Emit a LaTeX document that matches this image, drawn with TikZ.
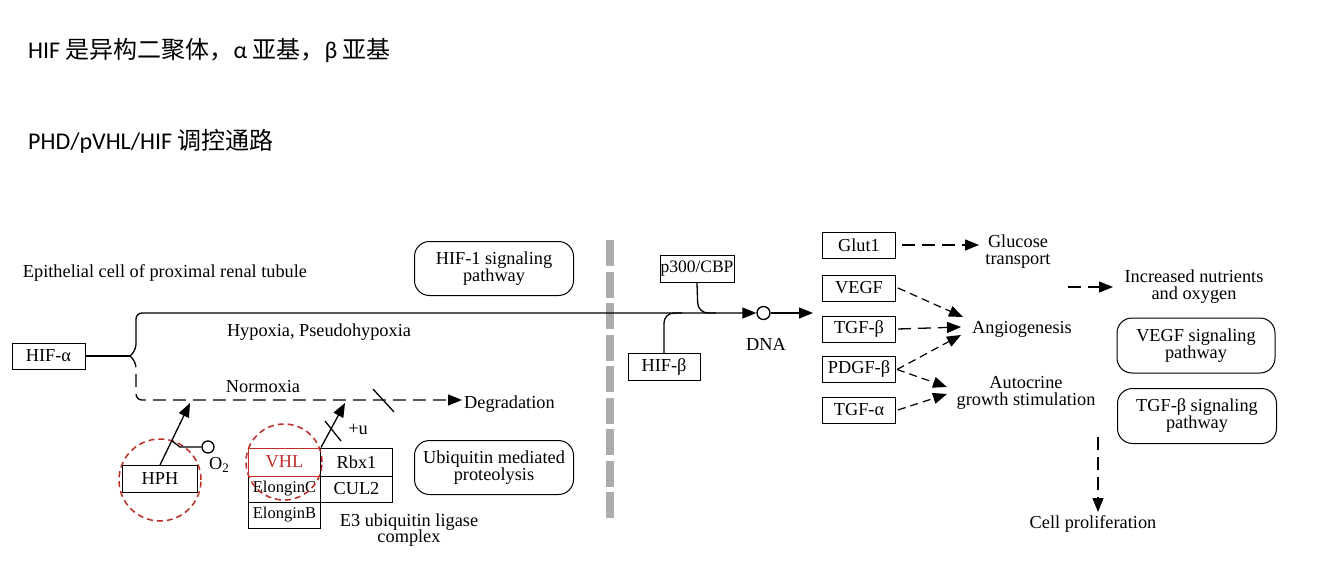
\documentclass[tikz,border=0pt]{standalone}
\usepackage{fontspec}
\setmainfont{Liberation Serif}
\newfontfamily\cjk{Noto Sans CJK SC}
\newfontfamily\lat{Carlito}
\usetikzlibrary{arrows.meta,calc}
\definecolor{kred}{RGB}{190,45,38}
\definecolor{kgray}{RGB}{172,172,172}
\begin{document}
\begin{tikzpicture}[x=1pt,y=-1pt,
  every node/.style={font=\fontsize{18.3}{18}\selectfont, inner sep=0pt},
  gbox/.style={draw, line width=1pt, minimum width=73pt, minimum height=26pt},
  cell/.style={draw, line width=1pt, minimum width=72pt, minimum height=26pt},
  rbox/.style={draw, line width=1pt, rounded corners=15pt, minimum width=159pt, minimum height=54pt, align=center},
  lbl/.style={align=center},
  ln/.style={line width=1.3pt},
  dsh/.style={line width=1.3pt, dash pattern=on 13pt off 7pt},
  sdsh/.style={line width=1.2pt, dash pattern=on 8pt off 5pt},
  tip/.style={-{Triangle[length=14pt,width=11pt]}},
  redcirc/.style={draw=kred, line width=1.5pt, dash pattern=on 6pt off 4pt},
  hdr/.style={anchor=base west, font=\fontsize{24}{26}\selectfont}
]
\useasboundingbox[fill=white] (0,0) rectangle (1334,578);

% header
\node[hdr] (h1) at (28,59) {{\lat HIF }{\cjk 是异构二聚体，}{\lat α }{\cjk 亚基，}{\lat β }{\cjk 亚基}};
\node[hdr] (h2) at (28,149) {{\lat PHD/pVHL/HIF }{\cjk 调控通路}};

% separator
\coordinate (gt) at (610,240);
\coordinate (gb) at (610,518);
\draw[kgray, line width=8pt, dash pattern=on 26pt off 5.5pt] (gt) -- (gb);

% left part
\node (epi) at (165,273) {Epithelial cell of proximal renal tubule};
\node[rbox] (hif1p) at (494,268.5) {HIF-1 signaling\\[-1pt]pathway};
\node[rbox] (ubq) at (494,467.5) {Ubiquitin mediated\\[-1pt]proteolysis};

\node[gbox] (hifa) at (48.5,356) {HIF-α};
\coordinate (br) at (130,356);
\node (hyp) at (319,332) {Hypoxia, Pseudohypoxia};
\node (norm) at (263,387) {Normoxia};
\node[anchor=west] (degr) at (464,404) {Degradation};
\coordinate (degtip) at (462,400);

% DNA
\node[circle, draw, line width=1.3pt, minimum size=13pt] (dna) at (763.5,313) {};
\node (dnal) at (766,344) {DNA};

\draw[ln] (hifa.east) -- (br);
\draw[ln, tip, rounded corners=6pt] (br) -- (136,350) -- (136,313) -- (dna.west);
\draw[dsh, tip, rounded corners=6pt] (br) -- (136,362) -- (136,400) -- (degtip);
\coordinate (s1a) at (373,389);
\coordinate (s1b) at (394,412);
\draw[ln] (s1a) -- (s1b);

% HPH
\node[gbox, minimum width=75pt, minimum height=27pt] (hph) at (160,479) {HPH};
\node[circle, redcirc, minimum size=82pt] (hphc) at (160,480) {};
\coordinate (hpht) at (190,403);
\draw[ln, tip] (hph.north) -- (hpht);
\node[circle, draw, line width=1.3pt, minimum size=12pt] (o2c) at (208,447) {};
\coordinate (o2a) at (172,441);
\draw[ln] (o2a) -- (180,447) -- (o2c.west);
\node (o2) at (219,465) {O\raisebox{-0.2em}{\fontsize{13}{13}\selectfont 2}};

% E3 complex
\node[cell, minimum height=26pt, font=\fontsize{16.5}{16}\selectfont] (elc) at (284.5,489) {ElonginC};
\node[cell, minimum height=26pt, font=\fontsize{16.5}{16}\selectfont] (elb) at (284.5,515) {ElonginB};
\node[cell, minimum height=28pt, draw=kred, text=kred] (vhl) at (284.5,462) {VHL};
\node[cell, minimum height=28pt] (rbx) at (356.5,462) {Rbx1};
\node[cell, minimum height=26pt] (cul) at (356.5,489) {CUL2};
\node[circle, redcirc, minimum size=76pt] (vhlc) at (284,462) {};
\coordinate (vhlt) at (345,403);
\draw[ln, tip] (vhl.north east) -- (vhlt);
\coordinate (s2a) at (325,421);
\coordinate (s2b) at (341,441);
\draw[ln] (s2a) -- (s2b);
\node (pu) at (358,429) {+u};
\node[lbl] (e3) at (409,530) {E3 ubiquitin ligase\\[-2pt]complex};

% transcription
\node[gbox, minimum width=74pt, minimum height=27pt, font=\fontsize{17.5}{17}\selectfont] (p300) at (697,269) {p300/CBP};
\node[gbox, minimum width=72pt, minimum height=27pt] (hifb) at (664,367) {HIF-β};
\draw[ln, rounded corners=10pt] (p300.south) -- (698,313) -- (716,313);
\draw[ln, rounded corners=10pt] (hifb.north) -- (664,313) -- (682,313);
\coordinate (dnat) at (813,313);
\draw[ln, tip] (dna.east) -- (dnat);

% genes
\node[gbox] (glut) at (859,245) {Glut1};
\node[gbox] (vegf) at (859,288) {VEGF};
\node[gbox] (tgfb) at (859,329) {TGF-β};
\node[gbox] (pdgf) at (859,369.5) {PDGF-β};
\node[gbox] (tgfa) at (859,410) {TGF-α};

\node[lbl] (gluc) at (1018,252) {Glucose\\[-1pt]transport};
\node[anchor=west] (ang) at (972,329) {Angiogenesis};
\node[lbl] (aut) at (1026,393) {Autocrine\\[-1pt]growth stimulation};
\node[lbl] (incr) at (1194,287) {Increased nutrients\\[-1pt]and oxygen};
\node[rbox, minimum width=158pt, minimum height=55pt] (vegfp) at (1196,345.5) {VEGF signaling\\[-1pt]pathway};
\node[rbox, minimum width=159pt, minimum height=55pt] (tgfp) at (1197,416) {TGF-β signaling\\[-1pt]pathway};
\node (cellp) at (1093,524) {Cell proliferation};

\coordinate (gtip) at (979,245);
\draw[dsh, tip] ($(glut.east)+(6,0)$) -- (gtip);
\coordinate (a1) at (963,317);
\coordinate (a2) at (961,327);
\coordinate (a3) at (961,335);
\coordinate (b1) at (947,387);
\coordinate (b2) at (947,394);
\draw[sdsh, tip] ($(vegf.east)+(2,0)$) -- (a1);
\draw[dsh, tip] ($(tgfb.east)+(2,0)$) -- (a2);
\draw[sdsh, tip] ($(pdgf.east)+(1,0)$) -- (a3);
\draw[sdsh, tip] ($(pdgf.east)+(1,0)$) -- (b1);
\draw[sdsh, tip] ($(tgfa.east)+(2,0)$) -- (b2);
\coordinate (ia) at (1068,287);
\coordinate (ib) at (1113,287);
\draw[dsh, tip] (ia) -- (ib);
\coordinate (ca) at (1098,437);
\coordinate (cb) at (1098,512);
\draw[dsh, tip] (ca) -- (cb);
\end{tikzpicture}
\end{document}
